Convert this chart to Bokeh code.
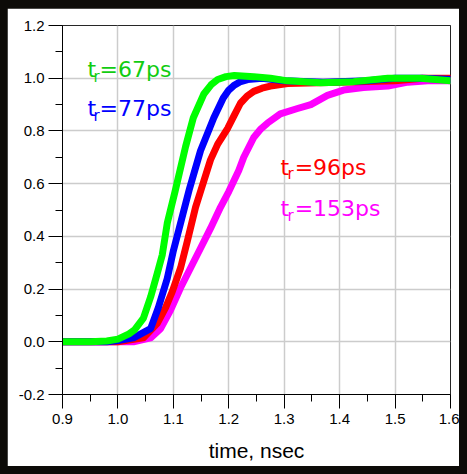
from bokeh.plotting import figure
from bokeh.models import Range1d, FixedTicker, NumeralTickFormatter, Label
from bokeh.embed import file_html
from bokeh.resources import INLINE

# ---- data ----
green_x = [0.90, 0.95, 0.98, 1.00, 1.02, 1.03, 1.046, 1.059, 1.071, 1.080, 1.089, 1.103, 1.122, 1.136, 1.155, 1.168, 1.180, 1.195, 1.210, 1.245, 1.275, 1.306, 1.366, 1.425, 1.487, 1.546, 1.60]
green_y = [0.0, 0.0, 0.003, 0.01, 0.03, 0.045, 0.09, 0.17, 0.26, 0.33, 0.45, 0.57, 0.74, 0.85, 0.94, 0.975, 0.995, 1.006, 1.01, 1.006, 1.0, 0.99, 0.983, 0.987, 1.0, 1.0, 0.99]

blue_x = [0.90, 0.98, 1.00, 1.028, 1.059, 1.073, 1.089, 1.100, 1.113, 1.129, 1.149, 1.173, 1.190, 1.200, 1.209, 1.220, 1.234, 1.260, 1.300, 1.370, 1.450, 1.500, 1.550, 1.60]
blue_y = [0.0, 0.0, 0.005, 0.015, 0.05, 0.13, 0.24, 0.345, 0.45, 0.58, 0.725, 0.85, 0.925, 0.955, 0.972, 0.986, 0.995, 1.0, 0.99, 0.985, 0.99, 1.0, 1.0, 0.995]

red_x = [0.90, 1.00, 1.046, 1.071, 1.086, 1.098, 1.113, 1.125, 1.140, 1.149, 1.167, 1.180, 1.198, 1.210, 1.221, 1.233, 1.245, 1.260, 1.275, 1.306, 1.400, 1.500, 1.550, 1.60]
red_y = [0.0, 0.0, 0.015, 0.07, 0.13, 0.19, 0.28, 0.38, 0.51, 0.57, 0.69, 0.75, 0.81, 0.86, 0.905, 0.932, 0.95, 0.962, 0.97, 0.98, 0.985, 0.99, 1.0, 1.0]

mag_x = [0.90, 0.95, 1.028, 1.059, 1.077, 1.095, 1.113, 1.131, 1.149, 1.167, 1.185, 1.200, 1.218, 1.227, 1.245, 1.258, 1.270, 1.293, 1.324, 1.348, 1.378, 1.407, 1.443, 1.487, 1.523, 1.559, 1.60]
mag_y = [0.0, 0.0, 0.0, 0.015, 0.05, 0.12, 0.205, 0.28, 0.355, 0.43, 0.51, 0.57, 0.65, 0.70, 0.775, 0.808, 0.83, 0.865, 0.885, 0.90, 0.935, 0.955, 0.965, 0.97, 0.985, 0.99, 0.99]

x_ticks = [0.9, 1.0, 1.1, 1.2, 1.3, 1.4, 1.5, 1.6]
x_minor = [0.95, 1.05, 1.15, 1.25, 1.35, 1.45, 1.55]
y_ticks = [-0.2, 0.0, 0.2, 0.4, 0.6, 0.8, 1.0, 1.2]
y_minor = [-0.1, 0.1, 0.3, 0.5, 0.7, 0.9, 1.1]

labels_main = ["=67ps", "=77ps", "=96ps", "=153ps"]
x_label = "time, nsec"

p = figure(width=452, height=458, output_backend="svg", toolbar_location=None,
           x_range=Range1d(0.9, 1.6), y_range=Range1d(-0.2, 1.2),
           min_border_left=55, min_border_right=9, min_border_top=17, min_border_bottom=72,
           background_fill_color="white", border_fill_color="white",
           margin=(8, 0, 0, 7))

p.outline_line_color = "black"
p.outline_line_alpha = 0.8

p.xaxis.ticker = FixedTicker(ticks=x_ticks, minor_ticks=x_minor)
p.yaxis.ticker = FixedTicker(ticks=y_ticks, minor_ticks=y_minor)
p.xaxis.formatter = NumeralTickFormatter(format="0.0")
p.yaxis.formatter = NumeralTickFormatter(format="0.0")
for ax in (p.xaxis, p.yaxis):
    ax.axis_line_color = "black"
    ax.major_tick_line_color = "black"
    ax.minor_tick_line_color = "black"
    ax.major_tick_out = 14
    ax.major_tick_in = 0
    ax.minor_tick_out = 7
    ax.minor_tick_in = 0
    ax.major_label_text_font = "Liberation Sans"
    ax.major_label_text_font_size = "15px"
    ax.major_label_text_color = "black"
p.yaxis.major_label_standoff = 4
p.xaxis.major_label_standoff = 5
p.xaxis.axis_label = x_label
p.xaxis.axis_label_text_font = "Liberation Sans"
p.xaxis.axis_label_text_font_size = "21px"
p.xaxis.axis_label_text_font_style = "normal"
p.xaxis.axis_label_text_color = "black"
p.xaxis.axis_label_standoff = 12

p.xgrid.grid_line_color = "#cccccc"
p.ygrid.grid_line_color = "#cccccc"
p.xgrid.grid_line_width = 1.5
p.ygrid.grid_line_width = 1.5

lw = 7
p.line(mag_x, mag_y, line_color="#ff00ff", line_width=lw, line_join="round", line_cap="round")
p.line(red_x, red_y, line_color="#ff0000", line_width=lw, line_join="round", line_cap="round")
p.line(blue_x, blue_y, line_color="#0000ff", line_width=lw, line_join="round", line_cap="round")
p.line(green_x, green_y, line_color="#00ff00", line_width=lw, line_join="round", line_cap="round")

# annotation positions (data units): t, subscript r, rest
ann = [
    (0.9451, 1.0323, 0.9560, 1.0038, 0.9668, "#11cc11", labels_main[0]),
    (0.9451, 0.8843, 0.9560, 0.8558, 0.9668, "#0000ff", labels_main[1]),
    (1.2935, 0.6622, 1.3061, 0.6357, 1.3188, "#ff0000", labels_main[2]),
    (1.2935, 0.5047, 1.3061, 0.4782, 1.3188, "#ff00ff", labels_main[3]),
]
font = "DejaVu Sans"
for tx, ty, rx, ry, ex, col, txt in ann:
    p.add_layout(Label(x=tx, y=ty, text="t", text_color=col, text_font=font,
                       text_font_size="22px", text_baseline="alphabetic", text_align="left"))
    p.add_layout(Label(x=rx, y=ry, text="r", text_color=col, text_font=font,
                       text_font_size="15px", text_baseline="alphabetic", text_align="left"))
    p.add_layout(Label(x=ex, y=ty, text=txt, text_color=col, text_font=font,
                       text_font_size="22px", text_baseline="alphabetic", text_align="left"))

html = file_html(p, INLINE)
style = "<style>html,body{margin:0 !important;padding:0 !important;background:#0d0b08 !important;overflow:hidden;}</style>"
html = html.replace("</head>", style + "</head>", 1)
open("out.html", "w").write(html)
